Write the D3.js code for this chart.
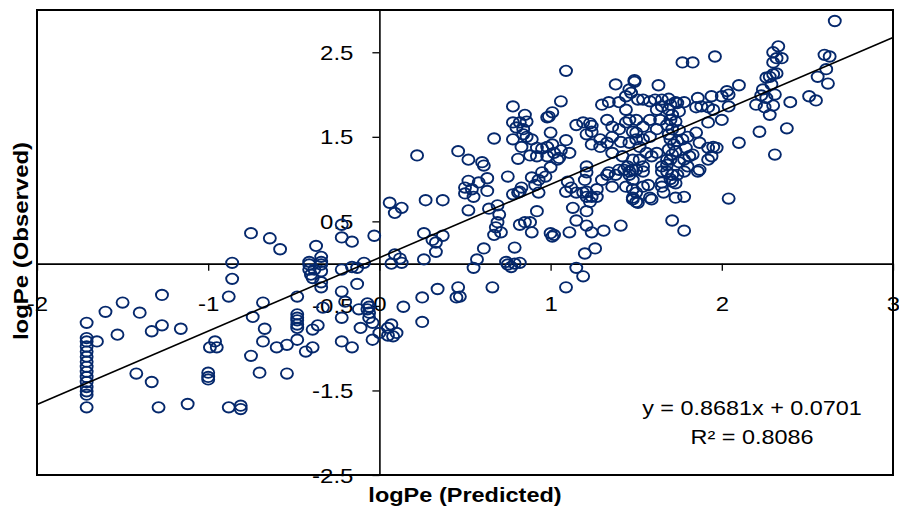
<!DOCTYPE html>
<html>
<head>
<meta charset="utf-8">
<script src="https://cdnjs.cloudflare.com/ajax/libs/d3/7.8.5/d3.min.js"></script>
<style>
  body { margin: 0; background: #fff; }
  svg text { font-family: "Liberation Sans", Arial, sans-serif; fill: #000; }
</style>
</head>
<body>
<script>
// observed vs predicted logPe as [predicted, observed]
var lowGroup = [
  [-1.71,-0.70],[-1.71,-0.88],[-1.71,-0.92],[-1.71,-0.98],[-1.71,-1.04],[-1.71,-1.10],[-1.71,-1.16],[-1.71,-1.22],
  [-1.71,-1.28],[-1.71,-1.34],[-1.71,-1.40],[-1.71,-1.46],[-1.71,-1.51],[-1.71,-1.55],[-1.71,-1.70],
  [-1.65,-0.92],[-1.60,-0.57],[-1.53,-0.84],[-1.50,-0.46],[-1.42,-1.30],[-1.40,-0.58],[-1.33,-0.80],[-1.33,-1.40],
  [-1.29,-1.70],[-1.27,-0.73],[-1.27,-0.37],[-1.16,-0.77],[-1.12,-1.66],
  [-1.00,-1.29],[-1.00,-1.34],[-1.00,-1.37],[-0.96,-0.92],[-0.99,-0.99],[-0.95,-0.99],[-0.88,-1.70],[-0.81,-1.68],
  [-0.81,-1.72],[-0.88,-0.39],[-0.86,-0.18],[-0.86,0.01],[-0.75,0.36],[-0.64,0.30],[-0.58,0.17],
  [-0.68,-0.46],[-0.74,-0.63],[-0.67,-0.77],[-0.68,-0.92],[-0.75,-1.09],[-0.70,-1.29],[-0.54,-1.30],[-0.60,-0.99],
  [-0.54,-0.96],[-0.48,-0.90],[-0.43,-1.04],[-0.39,-0.99],[-0.39,-0.78],[-0.36,-0.73],[-0.48,-0.39],
  [-0.48,-0.60],[-0.48,-0.64],[-0.48,-0.67],[-0.48,-0.72],[-0.48,-0.76],
  [-0.41,0.02],[-0.41,-0.01],[-0.41,-0.07],[-0.40,-0.13],[-0.39,-0.17],[-0.37,0.21],[-0.34,0.08],[-0.34,0.02],
  [-0.34,-0.01],[-0.34,-0.09],[-0.34,-0.22],[-0.34,-0.28],[-0.38,-0.07],
  [-0.22,0.46],[-0.22,0.31],[-0.16,0.26],[-0.03,0.33],[-0.22,-0.07],[-0.16,-0.04],[-0.13,-0.05],[-0.09,0.01],
  [-0.13,-0.24],[-0.22,-0.33],[-0.20,-0.45],[-0.22,-0.64],[-0.12,-0.54],
  [-0.07,-0.47],[-0.06,-0.51],[-0.07,-0.54],[-0.06,-0.58],[-0.06,-0.64],[-0.04,-0.70],[-0.11,-0.76],[-0.22,-0.92],
  [-0.16,-0.99],[-0.04,-0.90],[-0.33,-0.52]
];

var midGroup = [
  [0.00,-0.82],[0.05,-0.76],[0.05,-0.85],[0.07,-0.72],[0.10,-0.82],[0.08,-0.86],[0.14,-0.51],[0.25,-0.40],
  [0.34,-0.30],[0.46,-0.28],[0.47,-0.39],[0.45,-0.40],[0.25,-0.69],[0.66,-0.28],
  [0.06,0.72],[0.09,0.60],[0.13,0.66],[0.27,0.75],[0.37,0.75],[0.26,0.36],[0.31,0.28],[0.33,0.14],[0.37,0.33],
  [0.33,0.25],[0.09,0.11],[0.12,0.06],[0.07,0.00],[0.13,0.01],[0.26,0.05],
  [0.22,1.28],[0.46,1.33],[0.52,1.23],[0.60,1.20],[0.61,1.16],[0.75,1.03],[0.63,1.01],[0.52,0.98],[0.58,0.96],
  [0.50,0.90],[0.63,0.86],[0.50,0.83],[0.55,0.79],[0.54,0.88],
  [0.52,0.63],[0.64,0.65],[0.69,0.69],[0.70,0.58],[0.69,0.49],[0.68,0.43],[0.71,0.37],[0.67,0.34],[0.79,0.19],
  [0.61,0.18],[0.57,0.05],[0.55,-0.05],[0.74,0.02],[0.75,-0.01],[0.77,-0.04],[0.79,0.00],[0.82,0.01],
  [0.92,0.62],[0.82,0.46],[0.85,0.49],[0.88,0.49],[0.89,0.37],[1.00,0.36],[1.01,0.32],[1.02,0.34],[0.89,1.02],
  [0.91,0.93],[0.95,1.08],[0.93,0.99],[0.93,0.84],[0.81,0.84],[0.83,0.90],[0.97,1.03],[1.00,1.14],[0.78,0.82],[0.82,0.85],
  [1.09,2.28],[1.06,1.92],[0.78,1.86],[0.85,1.76],[0.98,1.73],[0.99,1.74],[1.01,1.79],[0.78,1.67],[0.82,1.67],
  [0.86,1.68],[0.80,1.61],[0.84,1.59],[0.67,1.48],[0.78,1.47],[0.84,1.53],[0.86,1.50],[0.89,1.47],[0.83,1.38],
  [0.92,1.37],[0.95,1.36],[0.98,1.38],[1.01,1.41],[1.00,1.55],[1.09,1.46],[0.88,1.28],[0.92,1.27],[0.98,1.27],
  [1.02,1.31],[1.06,1.34],[1.11,1.31],[0.81,1.24],[1.05,1.25],[1.04,1.23],[1.09,-0.28],
  [1.10,0.97],[1.12,0.90],[1.09,0.85],[1.15,0.84],[1.19,0.84],[1.21,0.85],[1.21,0.79],[1.24,0.79],[1.27,0.79],
  [1.23,0.73],[1.27,0.88],[1.21,1.15],[1.21,1.08],[1.20,0.99],
  [1.15,1.64],[1.19,1.67],[1.23,1.66],[1.24,1.63],[1.21,1.53],[1.24,1.41],[1.29,1.38],[1.24,1.56],[1.29,1.47],
  [1.13,0.66],[1.11,0.37],[1.15,0.51],[1.21,0.62],[1.21,0.45],[1.24,0.37],[1.26,0.18],[1.20,0.12],[1.15,-0.05],[1.19,-0.15]
];

var highGroup = [
  [1.33,1.43],[1.30,1.88],[1.34,1.91],[1.40,1.91],[1.44,1.82],[1.47,2.02],[1.46,2.06],[1.49,2.15],[1.38,2.12],
  [1.44,1.98],[1.51,1.94],
  [1.36,0.91],[1.30,0.99],[1.33,1.05],[1.38,1.05],[1.43,1.11],[1.46,1.05],[1.31,0.39],[1.41,0.45],
  [1.48,0.88],[1.48,0.78],[1.51,0.72],[1.57,0.93],[1.58,0.78],[1.59,0.76],[1.65,0.96],[1.66,0.84],[1.71,0.97],
  [1.73,0.78],[1.78,0.79],[1.68,1.09],[1.78,1.09],[1.86,1.09],[1.65,1.09],[1.54,1.09],[1.46,1.09],
  [2.04,0.77],[1.71,0.51],[1.78,0.39],[1.65,0.91],[1.54,0.91],[1.50,0.73],
  [2.66,2.87],[1.77,2.38],[1.83,2.38],[1.96,2.45],[2.33,2.57],[2.30,2.50],[2.35,2.43],[2.32,2.43],[2.30,2.38],
  [2.60,2.47],[2.63,2.45],[2.61,2.30],[2.56,2.21],[2.62,2.13],
  [2.28,2.21],[2.30,2.24],[2.32,2.25],[2.26,2.20],[2.29,2.12],[2.31,2.00],[2.24,2.06],[2.26,1.96],[2.23,1.99],
  [2.10,2.11],[2.40,1.91],[2.51,1.98],[2.55,1.93],
  [2.20,1.88],[2.25,1.85],[2.30,1.87],[2.28,1.76],[2.22,1.56],[2.38,1.60],[2.10,1.43],[2.31,1.29],[1.49,2.17],[1.63,2.11],
  [1.54,1.94],[1.58,1.92],[1.61,1.94],[1.65,1.94],[1.69,1.95],[1.73,1.91],[1.78,1.91],[1.86,1.96],[1.94,1.98],
  [2.00,1.98],[2.04,2.00],[2.03,2.04],
  [1.85,1.85],[1.88,1.86],[1.92,1.85],[1.95,1.82],[2.00,1.70],[2.04,1.86],[1.92,1.67],[1.85,1.55],
  [1.77,1.47],[1.80,1.50],[1.79,1.37],[1.81,1.27],[1.78,1.23],[1.80,1.15],[1.83,1.29],
  [1.87,1.43],[1.92,1.37],[1.95,1.38],[1.97,1.37],[1.92,1.23],[1.94,1.27],[1.87,1.11],
  [1.36,1.50],[1.40,1.59],[1.44,1.67],[1.48,1.56],[1.36,1.62],[1.33,1.70],[1.41,1.44],[1.46,1.43],[1.50,1.47],
  [1.36,1.31],[1.42,1.27],[1.48,1.23],[1.34,1.08],[1.40,1.11],[1.45,1.15],[1.50,1.11],[1.48,0.99],[1.44,0.91],
  [1.50,0.84],[1.48,0.76],
  [1.46,1.70],[1.50,1.70],[1.54,1.62],[1.50,1.55],[1.54,1.47],[1.58,1.50],[1.62,1.59],[1.58,1.70],[1.64,1.70],
  [1.62,1.82],[1.65,1.86],[1.52,1.38],[1.56,1.31],[1.62,1.31],[1.52,1.23],[1.48,1.11],[1.54,1.15],[1.59,1.27],
  [1.65,1.15],[1.68,1.23],
  [1.70,1.88],[1.69,1.82],[1.71,1.76],[1.70,1.70],[1.68,1.64],[1.71,1.59],[1.69,1.53],[1.70,1.47],[1.72,1.41],
  [1.69,1.35],[1.71,1.29],[1.70,1.23],[1.68,1.17],[1.71,1.05],[1.70,1.00],
  [1.74,1.90],[1.75,1.80],[1.73,1.68],[1.75,1.58],[1.74,1.45],[1.73,1.33],[1.75,1.20],[1.74,1.05],[1.73,0.95]
];

var xTicks = [-2, -1, 0, 1, 2, 3];
var yTicks = [-2.5, -1.5, -0.5, 0.5, 1.5, 2.5];
var slope = 0.8681, intercept = 0.0701, rSquared = 0.8086;

var data = lowGroup.concat(midGroup, highGroup);

var width = 899, height = 507;
var plot = {left: 37, right: 893, top: 10, bottom: 475};

var x = d3.scaleLinear().domain([-2, 3]).range([plot.left, plot.right]);
var y = d3.scaleLinear().domain([-2.5, 3]).range([plot.bottom, plot.top]);

var svg = d3.select("body").append("svg")
    .attr("width", width)
    .attr("height", height);

// plot frame
svg.append("rect")
    .attr("x", plot.left).attr("y", plot.top)
    .attr("width", plot.right - plot.left)
    .attr("height", plot.bottom - plot.top)
    .attr("fill", "none").attr("stroke", "#000").attr("stroke-width", 2);

// x axis crossing at y = 0
var xAxis = svg.append("g")
    .attr("transform", "translate(0," + y(0) + ")")
    .call(d3.axisBottom(x).tickValues(xTicks).tickSizeInner(7).tickSizeOuter(0)
      .tickFormat(function(d) { return d; }));
xAxis.select(".domain").attr("stroke", "#000").attr("stroke-width", 1.6);
xAxis.selectAll(".tick line").attr("stroke", "#000").attr("stroke-width", 1.3);
xAxis.selectAll(".tick text")
    .attr("y", 0).attr("dy", "0.35em")
    .attr("transform", "translate(0,40) scale(1.2,1)")
    .style("font-size", "20px");

// y axis crossing at x = 0
var yAxis = svg.append("g")
    .attr("transform", "translate(" + x(0) + ",0)")
    .call(d3.axisLeft(y).tickValues(yTicks).tickSizeInner(7).tickSizeOuter(0)
      .tickFormat(function(d) { return d; }));
yAxis.select(".domain").attr("stroke", "#000").attr("stroke-width", 1.6);
yAxis.selectAll(".tick line").attr("stroke", "#000").attr("stroke-width", 1.3);
yAxis.selectAll(".tick text")
    .attr("x", 0).attr("dy", "0.35em")
    .attr("transform", "translate(-26,0) scale(1.2,1)")
    .style("font-size", "20px");

// markers
svg.append("g").selectAll("ellipse")
    .data(data)
  .enter().append("ellipse")
    .attr("cx", function(d) { return x(d[0]); })
    .attr("cy", function(d) { return y(d[1]); })
    .attr("rx", 6).attr("ry", 5.2)
    .attr("fill", "none")
    .attr("stroke", "#05286c")
    .attr("stroke-width", 1.9);

// linear trendline
var xd = x.domain();
svg.append("line")
    .attr("x1", x(xd[0])).attr("y1", y(slope * xd[0] + intercept))
    .attr("x2", x(xd[1])).attr("y2", y(slope * xd[1] + intercept))
    .attr("stroke", "#000").attr("stroke-width", 1.6);

// equation label
svg.append("text")
    .attr("transform", "translate(752,408) scale(1.2,1)")
    .attr("text-anchor", "middle").attr("dy", "0.35em")
    .style("font-size", "19.5px")
    .text("y = " + slope + "x + " + intercept);
svg.append("text")
    .attr("transform", "translate(752,437) scale(1.2,1)")
    .attr("text-anchor", "middle").attr("dy", "0.35em")
    .style("font-size", "19.5px")
    .text("R\u00b2 = " + rSquared);

// axis titles
svg.append("text")
    .attr("transform", "translate(465,495) scale(1.12,1)")
    .attr("text-anchor", "middle").attr("dy", "0.35em")
    .style("font-size", "21px").style("font-weight", "bold")
    .text("logPe (Predicted)");
svg.append("text")
    .attr("transform", "translate(21,241) rotate(-90) scale(1.14,1)")
    .attr("text-anchor", "middle").attr("dy", "0.35em")
    .style("font-size", "21px").style("font-weight", "bold")
    .text("logPe (Observed)");
</script>
</body>
</html>
